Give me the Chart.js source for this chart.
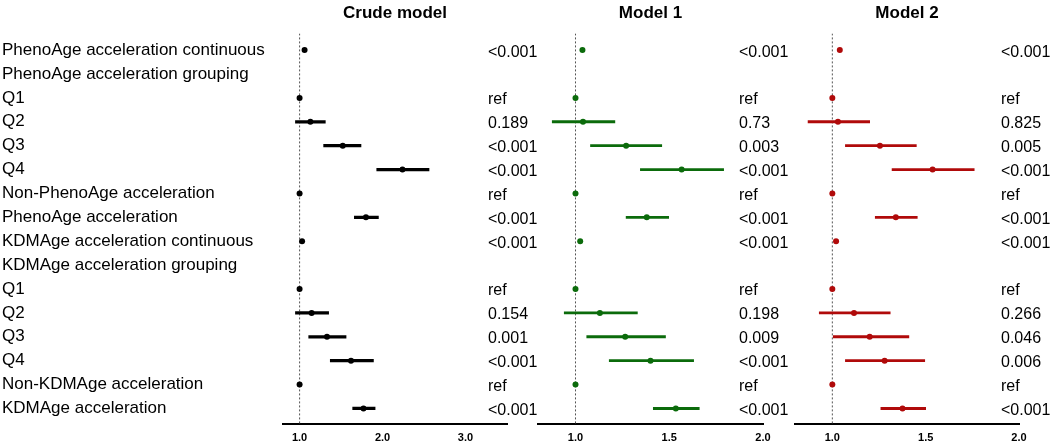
<!DOCTYPE html>
<html>
<head>
<meta charset="utf-8">
<script src="https://cdn.jsdelivr.net/npm/chart.js@4.4.1/dist/chart.umd.min.js"></script>
<style>
  html, body { margin: 0; padding: 0; background: #fff; overflow: hidden; }
  #wrap { position: relative; width: 1052px; height: 443px; }
  #wrap canvas { position: absolute; left: 0; top: 0; }
</style>
</head>
<body>
<div id="wrap">
  <canvas id="crude" width="1052" height="443"></canvas>
  <canvas id="model1" width="1052" height="443"></canvas>
  <canvas id="model2" width="1052" height="443"></canvas>
</div>
<script>
// --- dados ---
const rowLabels = [
  'PhenoAge acceleration continuous', 'PhenoAge acceleration grouping', 'Q1', 'Q2', 'Q3', 'Q4',
  'Non-PhenoAge acceleration', 'PhenoAge acceleration',
  'KDMAge acceleration continuous', 'KDMAge acceleration grouping', 'Q1', 'Q2', 'Q3', 'Q4',
  'Non-KDMAge acceleration', 'KDMAge acceleration'
];

const crudeEst  = [1.06, null, 1.00, 1.13, 1.52, 2.24, 1.00, 1.80, 1.03, null, 1.00, 1.145, 1.33, 1.62, 1.00, 1.77];
const crudeLow  = [1.05, null, 1.00, 0.95, 1.29, 1.93, 1.00, 1.66, 1.02, null, 1.00, 0.95, 1.11, 1.37, 1.00, 1.64];
const crudeHigh = [1.07, null, 1.00, 1.31, 1.74, 2.56, 1.00, 1.95, 1.04, null, 1.00, 1.35, 1.56, 1.89, 1.00, 1.91];
const crudeP = ['<0.001', '', 'ref', '0.189', '<0.001', '<0.001', 'ref', '<0.001',
                '<0.001', '', 'ref', '0.154', '0.001', '<0.001', 'ref', '<0.001'];

const model1Est  = [1.037, null, 1.00, 1.04, 1.27, 1.566, 1.00, 1.38, 1.025, null, 1.00, 1.13, 1.265, 1.40, 1.00, 1.535];
const model1Low  = [1.03, null, 1.00, 0.876, 1.08, 1.346, 1.00, 1.27, 1.02, null, 1.00, 0.94, 1.06, 1.18, 1.00, 1.415];
const model1High = [1.045, null, 1.00, 1.21, 1.46, 1.79, 1.00, 1.497, 1.03, null, 1.00, 1.33, 1.48, 1.63, 1.00, 1.66];
const model1P = ['<0.001', '', 'ref', '0.73', '0.003', '<0.001', 'ref', '<0.001',
                 '<0.001', '', 'ref', '0.198', '0.009', '<0.001', 'ref', '<0.001'];

const model2Est  = [1.04, null, 1.00, 1.03, 1.255, 1.537, 1.00, 1.34, 1.02, null, 1.00, 1.116, 1.20, 1.28, 1.00, 1.376];
const model2Low  = [1.03, null, 1.00, 0.87, 1.07, 1.32, 1.00, 1.23, 1.01, null, 1.00, 0.93, 1.005, 1.07, 1.00, 1.26];
const model2High = [1.05, null, 1.00, 1.20, 1.45, 1.76, 1.00, 1.455, 1.03, null, 1.00, 1.31, 1.41, 1.495, 1.00, 1.50];
const model2P = ['<0.001', '', 'ref', '0.825', '0.005', '<0.001', 'ref', '<0.001',
                 '<0.001', '', 'ref', '0.266', '0.046', '0.006', 'ref', '<0.001'];

const crudeTicks = [1, 2, 3];
const modelTicks = [1, 1.5, 2];

// limites do eixo das linhas (linha 0 em cima)
const Y_MIN = -0.7;
const Y_MAX = 15.65;

const FONT = '"Liberation Sans", Arial, Helvetica, sans-serif';
Chart.defaults.font.family = FONT;
Chart.defaults.color = '#000';

// escreve os valores de p à direita de cada painel
const panelText = {
  id: 'panelText',
  afterDraw(chart, args, opts) {
    const { ctx } = chart;
    const y = chart.scales.y;
    ctx.save();
    ctx.font = '16px ' + FONT;
    ctx.fillStyle = '#000';
    ctx.textAlign = 'left';
    ctx.textBaseline = 'middle';
    opts.labels.forEach((t, i) => {
      if (t) ctx.fillText(t, opts.x, y.getPixelForValue(i) + 2);
    });
    ctx.restore();
  }
};

function buildPanel(canvasId, panel) {
  const ctx = document.getElementById(canvasId).getContext('2d');
  const ciData = [];
  const pointData = [];
  panel.est.forEach((v, i) => {
    if (v === null) return;
    ciData.push({ x: [panel.low[i], panel.high[i]], y: i });
    pointData.push({ x: v, y: i });
  });

  return new Chart(ctx, {
    type: 'scatter',
    plugins: [panelText],
    data: {
      datasets: [{
        // linha pontilhada em 1.0
        type: 'scatter',
        showLine: true,
        data: [{ x: 1, y: Y_MIN }, { x: 1, y: Y_MAX }],
        borderColor: '#555',
        borderWidth: 1,
        borderDash: [2, 2],
        pointRadius: 0,
        order: 3
      }, {
        type: 'bar',
        indexAxis: 'y',
        data: ciData,
        backgroundColor: panel.color,
        borderWidth: 0,
        barThickness: panel.lineWidth,
        order: 2
      }, {
        type: 'scatter',
        data: pointData,
        backgroundColor: panel.color,
        borderColor: panel.color,
        borderWidth: 0,
        pointRadius: 3,
        order: 1
      }]
    },
    options: {
      responsive: false,
      animation: false,
      events: [],
      layout: { padding: { left: panel.padLeft, right: panel.padRight, top: 0, bottom: 0 } },
      plugins: {
        legend: { display: false },
        tooltip: { enabled: false },
        title: {
          display: true,
          text: panel.title,
          fullSize: false,
          color: '#000',
          font: { size: 17, weight: 'bold' },
          padding: { top: 3, bottom: 10 }
        },
        panelText: { x: panel.pX, labels: panel.p }
      },
      scales: {
        x: {
          type: 'linear',
          min: panel.xMin,
          max: panel.xMax,
          afterBuildTicks: s => { s.ticks = panel.ticks.map(v => ({ value: v })); },
          afterFit: s => { s.height = 19; },
          grid: { display: false, drawTicks: false },
          border: { display: true, color: '#000', width: 2 },
          ticks: {
            color: '#000',
            padding: 7,
            font: { size: 11, weight: 'bold' },
            callback: v => v.toFixed(1)
          }
        },
        y: {
          type: 'linear',
          reverse: true,
          offset: false,
          min: Y_MIN,
          max: Y_MAX,
          display: panel.showRows,
          afterBuildTicks: s => { s.ticks = rowLabels.map((_, i) => ({ value: i })); },
          afterFit: s => { if (panel.showRows) s.width = 281; },
          grid: { display: false, offset: false },
          border: { display: false },
          ticks: {
            autoSkip: false,
            crossAlign: 'far',
            padding: 0,
            color: '#000',
            font: { size: 17 },
            callback: v => rowLabels[v]
          }
        }
      }
    }
  });
}

buildPanel('crude', {
  title: 'Crude model', est: crudeEst, low: crudeLow, high: crudeHigh, p: crudeP,
  ticks: crudeTicks, xMin: 0.8, xMax: 3.5, color: '#000', lineWidth: 2.6,
  showRows: true, padLeft: 2, padRight: 545, pX: 488
});

buildPanel('model1', {
  title: 'Model 1', est: model1Est, low: model1Low, high: model1High, p: model1P,
  ticks: modelTicks, xMin: 0.8, xMax: 2.0, color: '#0b6b0b', lineWidth: 2.2,
  showRows: false, padLeft: 538, padRight: 289, pX: 739
});

buildPanel('model2', {
  title: 'Model 2', est: model2Est, low: model2Low, high: model2High, p: model2P,
  ticks: modelTicks, xMin: 0.8, xMax: 2.0, color: '#b00a0a', lineWidth: 2.2,
  showRows: false, padLeft: 795, padRight: 33, pX: 1001
});
</script>
</body>
</html>
